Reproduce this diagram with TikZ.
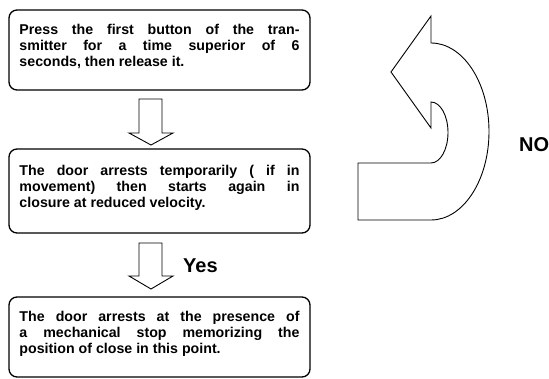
\documentclass[tikz,border=0pt]{standalone}
\usepackage{fontspec}
\setmainfont{Liberation Sans}
\tolerance=10000
\hbadness=10000

\begin{document}
\begin{tikzpicture}[x=1pt, y=-1pt,
	stepbox/.style={draw, line width=1.3pt, rounded corners=8pt, text width=280pt, inner xsep=10.5pt, inner ysep=0pt, align=justify, font=\fontsize{14.2}{16}\selectfont\bfseries, execute at end node={\rule[-10pt]{0pt}{0pt}}},
	hollowarrow/.style={draw, line width=0.9pt, line join=miter},
	answer/.style={font=\fontsize{20}{24}\selectfont\bfseries, inner sep=0pt, anchor=base west}]
				\useasboundingbox (0,0) rectangle (549,379);
				
				\node (press) at (159.5,50)[stepbox, minimum height=80pt]{Press the first button of the tran-\linebreak smitter for a time superior of 6\linebreak seconds, then release it.};
				\node (restart) at (159.5,191)[stepbox, minimum height=84pt]{The door arrests temporarily ( if in\linebreak movement) then starts again in\linebreak closure at reduced velocity.};
				\node (stop) at (159.5,337)[stepbox, minimum height=80pt]{The door arrests at the presence of\linebreak a mechanical stop memorizing the\linebreak position of close in this point.};
				
				% hollow arrows between the boxes
				\draw[hollowarrow] (139,99) -- (162,99) -- (162,133) -- (173,133) -- (151,145) -- (129,133) -- (139,133) -- cycle;
				\draw[hollowarrow] (139,243) -- (162,243) -- (162,276) -- (173,276) -- (151,289) -- (129,276) -- (139,276) -- cycle;
				\node (yes) at (183,273)[answer]{Yes};
				
				% turning back arrow
				\draw[hollowarrow] (391,72) -- (431,16) -- (431,43)
					.. controls (463,43) and (489,82.6) .. (489,131.5)
					.. controls (489,180.4) and (463,220) .. (431,220)
					-- (358,220) -- (358,163) -- (431,163)
					.. controls (440.4,163) and (448,149.3) .. (448,132.5)
					.. controls (448,115.7) and (440.4,102) .. (431,102)
					-- (431,128) -- cycle;
				\node (no) at (519,152)[answer]{NO};
			\end{tikzpicture}
\end{document}
